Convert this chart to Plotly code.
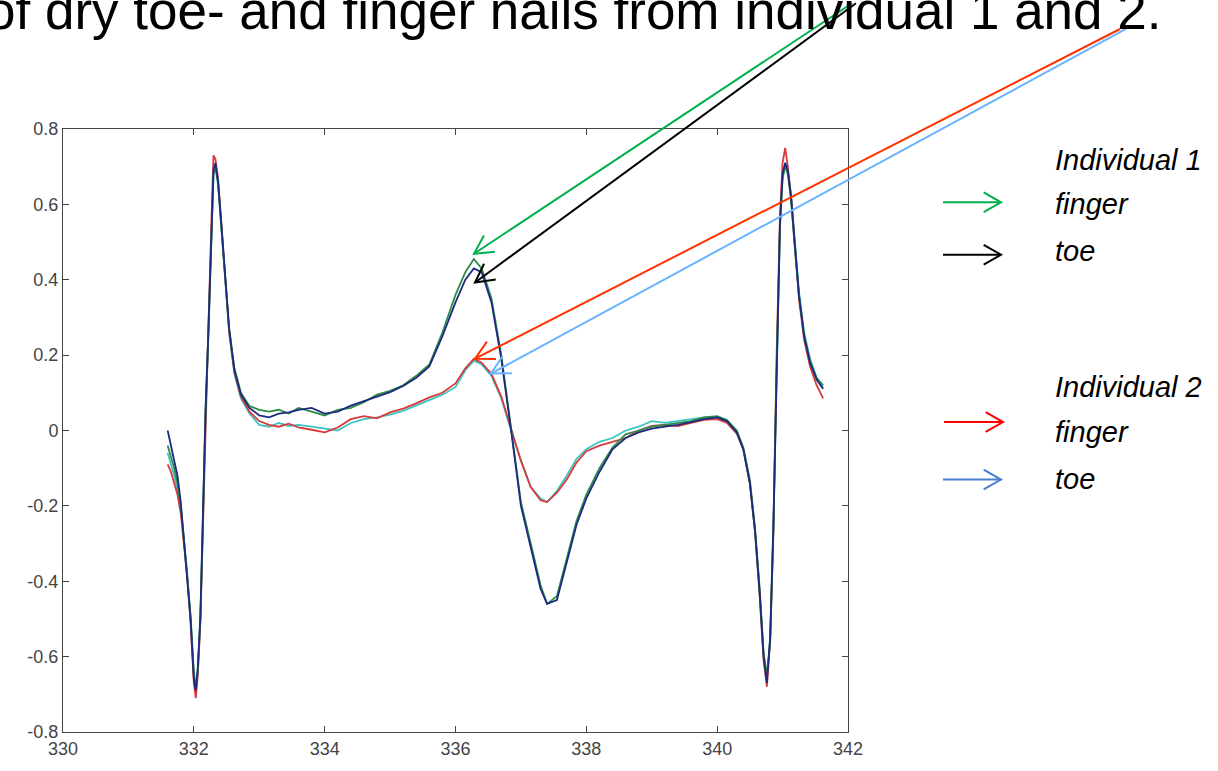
import math
import plotly.graph_objects as go

# ---------------- data ----------------
field = [331.60, 331.65, 331.70, 331.75, 331.80, 331.85, 331.90, 331.95, 332.00, 332.03,
         332.06, 332.10, 332.14, 332.18, 332.22, 332.26, 332.30, 332.33, 332.37, 332.42,
         332.48, 332.54, 332.62, 332.72, 332.85, 333.00, 333.15, 333.30, 333.45, 333.60,
         333.80, 334.00, 334.20, 334.40, 334.60, 334.80, 335.00, 335.20, 335.40, 335.60,
         335.80, 336.00, 336.15, 336.28, 336.40, 336.55, 336.70, 336.85, 337.00, 337.15,
         337.30, 337.40, 337.55, 337.70, 337.85, 338.00, 338.20, 338.40, 338.60, 338.80,
         339.00, 339.20, 339.40, 339.60, 339.80, 340.00, 340.15, 340.30, 340.40, 340.50,
         340.58, 340.65, 340.71, 340.76, 340.81, 340.86, 340.91, 340.96, 341.00, 341.04,
         341.08, 341.13, 341.18, 341.25, 341.33, 341.42, 341.52, 341.62]

ind1_toe = [0.00, -0.04, -0.08, -0.12, -0.19, -0.29, -0.38, -0.50, -0.66, -0.69,
            -0.63, -0.49, -0.22, 0.06, 0.25, 0.48, 0.69, 0.71, 0.66, 0.55,
            0.41, 0.27, 0.16, 0.095, 0.06, 0.04, 0.035, 0.045, 0.048, 0.055,
            0.06, 0.045, 0.05, 0.066, 0.078, 0.09, 0.102, 0.118, 0.14, 0.17,
            0.25, 0.34, 0.40, 0.43, 0.42, 0.34, 0.19, 0.0, -0.20, -0.31,
            -0.42, -0.46, -0.45, -0.35, -0.25, -0.18, -0.11, -0.05, -0.02, -0.005,
            0.005, 0.01, 0.015, 0.022, 0.03, 0.035, 0.025, -0.005, -0.05, -0.14,
            -0.27, -0.43, -0.60, -0.67, -0.55, -0.25, 0.20, 0.55, 0.68, 0.71,
            0.69, 0.62, 0.51, 0.36, 0.25, 0.18, 0.135, 0.11]

ind1_finger = [-0.04, -0.07, -0.10, -0.14, -0.20, -0.29, -0.38, -0.49, -0.64, -0.68,
               -0.64, -0.50, -0.23, 0.05, 0.24, 0.47, 0.68, 0.70, 0.66, 0.54,
               0.40, 0.27, 0.165, 0.10, 0.065, 0.055, 0.05, 0.055, 0.045, 0.06,
               0.05, 0.04, 0.055, 0.06, 0.075, 0.095, 0.105, 0.12, 0.145, 0.175,
               0.26, 0.36, 0.42, 0.455, 0.43, 0.35, 0.20, 0.01, -0.19, -0.30,
               -0.41, -0.46, -0.44, -0.34, -0.24, -0.17, -0.10, -0.045, -0.01, 0.0,
               0.01, 0.015, 0.02, 0.025, 0.035, 0.038, 0.028, 0.0, -0.045, -0.13,
               -0.26, -0.42, -0.59, -0.65, -0.56, -0.27, 0.18, 0.54, 0.67, 0.70,
               0.68, 0.61, 0.50, 0.36, 0.25, 0.185, 0.14, 0.12]

ind2_finger = [-0.09, -0.11, -0.14, -0.17, -0.22, -0.30, -0.39, -0.51, -0.67, -0.71,
               -0.65, -0.51, -0.24, 0.05, 0.26, 0.50, 0.73, 0.72, 0.67, 0.55,
               0.40, 0.26, 0.155, 0.09, 0.05, 0.025, 0.015, 0.01, 0.018, 0.008,
               0.002, -0.005, 0.008, 0.03, 0.038, 0.032, 0.048, 0.058, 0.072, 0.088,
               0.10, 0.125, 0.165, 0.19, 0.18, 0.15, 0.09, 0.005, -0.08, -0.15,
               -0.185, -0.19, -0.165, -0.13, -0.085, -0.055, -0.04, -0.03, -0.02, 0.0,
               0.012, 0.015, 0.012, 0.02, 0.028, 0.03, 0.02, -0.008, -0.05, -0.14,
               -0.27, -0.44, -0.61, -0.68, -0.56, -0.26, 0.21, 0.57, 0.71, 0.75,
               0.70, 0.62, 0.51, 0.35, 0.24, 0.17, 0.12, 0.085]

ind2_toe = [-0.06, -0.09, -0.12, -0.16, -0.21, -0.29, -0.38, -0.50, -0.65, -0.69,
            -0.64, -0.50, -0.22, 0.06, 0.25, 0.47, 0.68, 0.70, 0.65, 0.54,
            0.40, 0.26, 0.15, 0.085, 0.045, 0.015, 0.01, 0.02, 0.012, 0.015,
            0.01, 0.005, 0.0, 0.02, 0.03, 0.035, 0.042, 0.052, 0.066, 0.08,
            0.095, 0.115, 0.16, 0.185, 0.175, 0.145, 0.085, 0.0, -0.08, -0.15,
            -0.18, -0.19, -0.16, -0.12, -0.075, -0.05, -0.03, -0.02, 0.0, 0.01,
            0.025, 0.02, 0.025, 0.03, 0.035, 0.035, 0.022, -0.005, -0.05, -0.14,
            -0.27, -0.43, -0.60, -0.66, -0.55, -0.24, 0.20, 0.54, 0.67, 0.71,
            0.69, 0.62, 0.52, 0.37, 0.26, 0.19, 0.14, 0.115]

x_ticks = [330, 332, 334, 336, 338, 340, 342]
x_tick_text = ["330", "332", "334", "336", "338", "340", "342"]
y_ticks = [-0.8, -0.6, -0.4, -0.2, 0, 0.2, 0.4, 0.6, 0.8]
y_tick_text = ["-0.8", "-0.6", "-0.4", "-0.2", "0", "0.2", "0.4", "0.6", "0.8"]

title_text = "of dry toe- and finger nails from individual 1 and 2."
legend_groups = ["Individual 1", "Individual 2"]
legend_items = ["finger", "toe", "finger", "toe"]

# ---------------- layout geometry (pixels) ----------------
W, H = 1218, 771
L, R, T, B = 63, 848, 129, 738


def px(xp):
    return (xp - L) / (R - L)


def py(yp):
    return (B - yp) / (B - T)


fig = go.Figure()
series = [
    (ind2_toe, "#3cc4c4"),
    (ind2_finger, "#d83a3a"),
    (ind1_finger, "#2e8b45"),
    (ind1_toe, "#1c2a80"),
]
for ys, col in series:
    fig.add_trace(go.Scatter(x=field, y=ys, mode="lines",
                             line=dict(color=col, width=1.8), showlegend=False,
                             hoverinfo="skip"))

shapes = []


def arrow(tail, tip, color, barb=21, ang=28, width=2):
    shapes.append(dict(type="line", xref="paper", yref="paper",
                       x0=px(tail[0]), y0=py(tail[1]), x1=px(tip[0]), y1=py(tip[1]),
                       line=dict(color=color, width=width)))
    dx, dy = tail[0] - tip[0], tail[1] - tip[1]
    n = math.hypot(dx, dy)
    ux, uy = dx / n, dy / n
    pts = []
    for s in (1, -1):
        a = math.radians(ang) * s
        rx = ux * math.cos(a) - uy * math.sin(a)
        ry = ux * math.sin(a) + uy * math.cos(a)
        pts.append((tip[0] + barb * rx, tip[1] + barb * ry))
    path = "M {} {} L {} {} L {} {}".format(px(pts[0][0]), py(pts[0][1]),
                                            px(tip[0]), py(tip[1]),
                                            px(pts[1][0]), py(pts[1][1]))
    shapes.append(dict(type="path", xref="paper", yref="paper", path=path,
                       line=dict(color=color, width=width)))


# pointer arrows
arrow((852, 2), (474, 255), "#00b050")
arrow((856, 2), (475, 284), "#000000")
arrow((1120, 28), (475, 361), "#ff3300")
arrow((1126, 28), (491, 376), "#6ab4ff")
# legend arrows
arrow((943, 203), (1001, 203), "#00b050", barb=20, ang=30)
arrow((943, 256), (1001, 256), "#000000", barb=20, ang=30)
arrow((944, 425), (1003, 425), "#ff0000", barb=20, ang=30)
arrow((943, 483), (1001, 483), "#4a7fcc", barb=20, ang=30)

annotations = [
    dict(text=title_text, xref="paper", yref="paper", x=px(1164), y=py(41),
         xanchor="right", yanchor="bottom", showarrow=False,
         font=dict(family="Liberation Sans, Arial", size=53, color="#000000")),
]
label_rows = [(legend_groups[0], 160), (legend_items[0], 205), (legend_items[1], 252),
              (legend_groups[1], 390), (legend_items[2], 435), (legend_items[3], 482)]
for txt, yy in label_rows:
    annotations.append(dict(text=txt, xref="paper", yref="paper", x=px(1053), y=py(yy),
                            xanchor="left", yanchor="middle", showarrow=False,
                            font=dict(family="Liberation Sans, Arial", size=29,
                                      color="#000000", style="italic")))

axis_common = dict(showline=True, linecolor="#444444", linewidth=1, mirror="ticks",
                   ticks="inside", ticklen=6, tickcolor="#444444", showgrid=False,
                   zeroline=False, tickfont=dict(family="Liberation Sans, Arial",
                                                 size=18, color="#444444"))

fig.update_layout(
    width=W, height=H, autosize=False,
    margin=dict(l=L, r=W - R, t=T, b=H - B, pad=0),
    paper_bgcolor="white", plot_bgcolor="white",
    xaxis=dict(range=[330, 342], tickvals=x_ticks, ticktext=x_tick_text, **axis_common),
    yaxis=dict(range=[-0.8, 0.8], tickvals=y_ticks, ticktext=y_tick_text, **axis_common),
    shapes=shapes, annotations=annotations,
)

fig.write_html("out.html")
